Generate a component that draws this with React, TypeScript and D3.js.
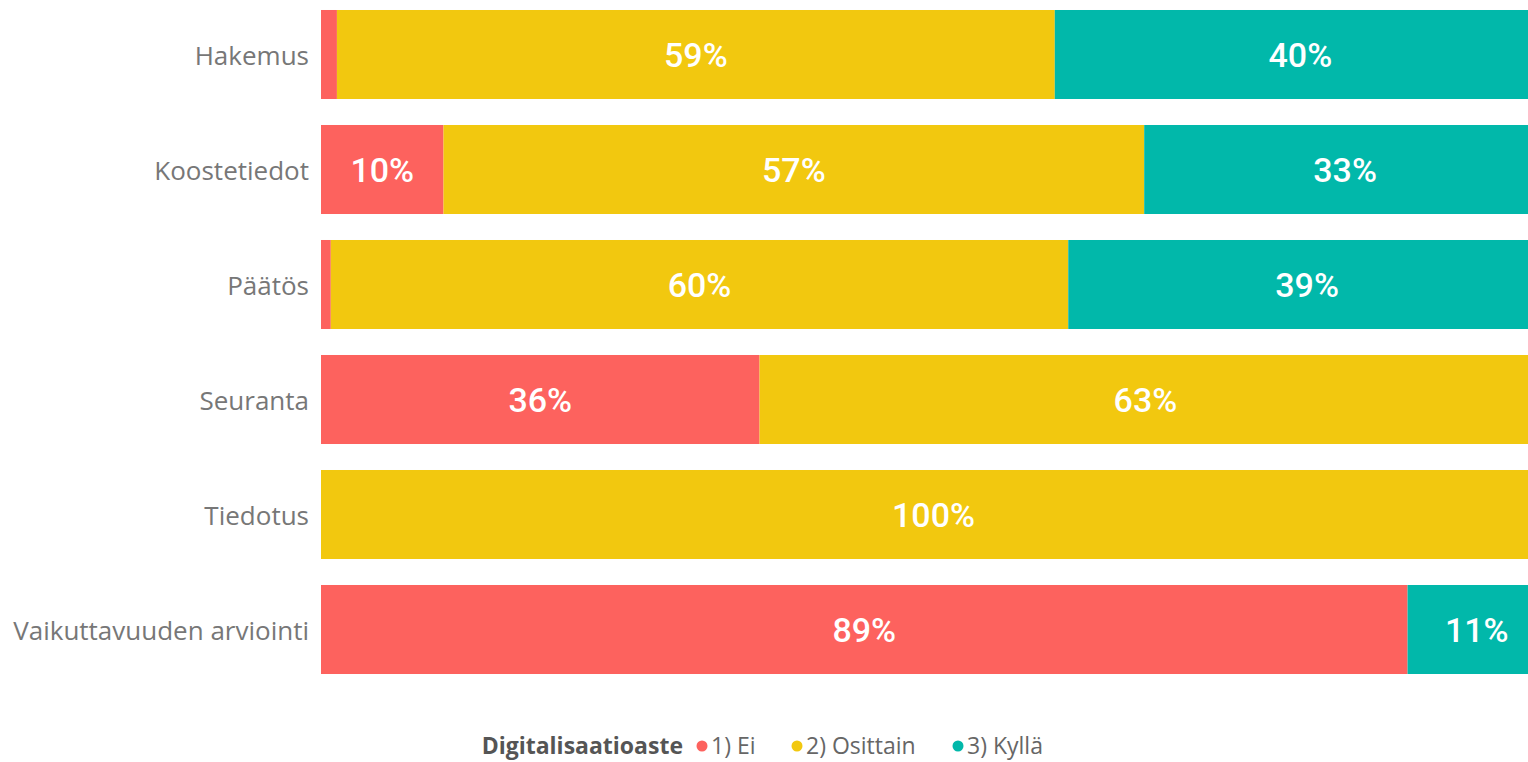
import React from "react";
import * as d3 from "d3";

const categories = ["Hakemus", "Koostetiedot", "Päätös", "Seuranta", "Tiedotus", "Vaikuttavuuden arviointi"];
const seriesNames = ["1) Ei", "2) Osittain", "3) Kyllä"];
const ei = [1.3, 10.0, 0.8, 35.8, 0, 88.7];
const osittain = [58.6, 57.2, 60.2, 63.0, 100, 0];
const kylla = [40.1, 32.8, 39.0, 1.2, 0, 11.3];
const colors = ["#FD625E", "#F2C80F", "#01B8AA"];
const legendTitle = "Digitalisaatioaste";

export default function App() {
  const W = 1528, H = 762;
  const x0 = 321, x1 = 1546;
  const x = d3.scaleLinear().domain([0, 100]).range([x0, x1]);
  const y = d3.scaleBand().domain(categories).range([-3, 687]).paddingInner(0.226).paddingOuter(0.113);
  const rows = categories.map((c, i) => ({ c, ei: ei[i], osittain: osittain[i], kylla: kylla[i] }));
  const stack = d3.stack<any>().keys(["ei", "osittain", "kylla"])(rows);
  const fontCat = "'Segoe UI', 'Open Sans', 'Noto Sans', sans-serif";
  const fontLbl = "Roboto, sans-serif";
  const legendItems = [
    { cx: 702, tx: 711 },
    { cx: 797, tx: 806 },
    { cx: 958, tx: 967 },
  ];
  return (
    <svg width={W} height={H} style={{ position: "absolute", left: 0, top: 0, background: "#fff" }}>
      {stack.map((s, si) => (
        <g key={si} fill={colors[si]}>
          {s.map((d, i) => {
            const w = x(d[1]) - x(d[0]);
            if (w <= 0) return null;
            return <rect key={i} x={x(d[0])} y={y(categories[i])} width={w} height={y.bandwidth()} />;
          })}
        </g>
      ))}
      {stack.map((s, si) => (
        <g key={"l" + si}>
          {s.map((d, i) => {
            const v = d[1] - d[0];
            if (v < 5) return null;
            return (
              <text key={i} x={(x(d[0]) + x(d[1])) / 2} y={y(categories[i])! + y.bandwidth() / 2}
                dy="0.36em" textAnchor="middle" fill="#fff" fontFamily={fontLbl} fontWeight={500}
                fontSize={34}>
                {Math.round(v)}%
              </text>
            );
          })}
        </g>
      ))}
      {categories.map((c) => (
        <text key={c} x={309} y={y(c)! + y.bandwidth() / 2} dy="0.42em" textAnchor="end"
          fill="#777" fontFamily={fontCat} fontSize={26}>
          {c}
        </text>
      ))}
      <g fontFamily={fontCat} fontSize={23}>
        <text x={683} y={746} dy="0.35em" textAnchor="end" fill="#555" fontWeight={700}>{legendTitle}</text>
        {seriesNames.map((n, i) => (
          <g key={n}>
            <circle cx={legendItems[i].cx} cy={746} r={5.5} fill={colors[i]} />
            <text x={legendItems[i].tx} y={746} dy="0.35em" fill="#666">{n}</text>
          </g>
        ))}
      </g>
    </svg>
  );
}
